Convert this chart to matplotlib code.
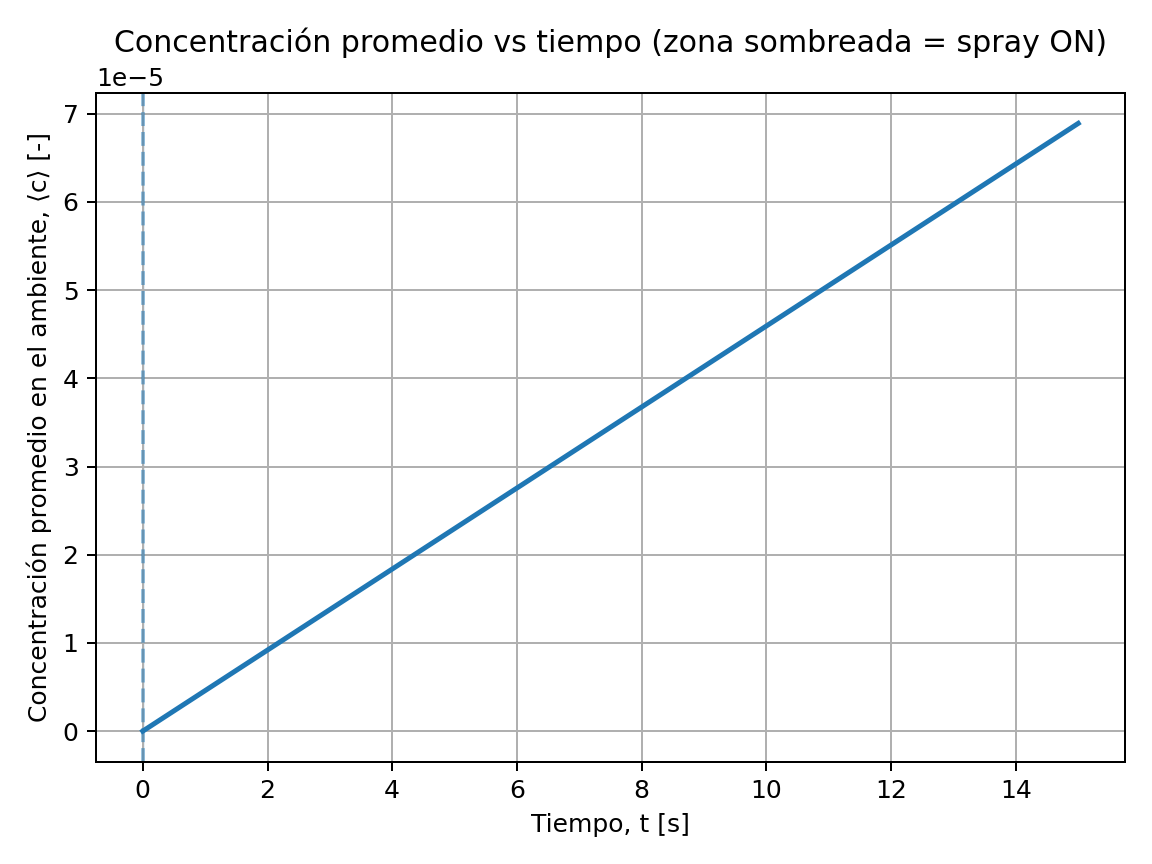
import matplotlib
matplotlib.use("Agg")
import matplotlib.pyplot as plt

t = [0.0, 15.0]
c = [0.0, 6.89e-5]
spray_on = (0.0, 0.0)

fig, ax = plt.subplots(figsize=(6.4, 4.8), dpi=180)
ax.axvspan(spray_on[0], spray_on[1], color="tab:blue", alpha=0.15)
ax.axvline(spray_on[0], color="tab:blue", linestyle="--", alpha=0.5)
ax.plot(t, c, color="tab:blue", linewidth=2)
ax.set_xlabel("Tiempo, t [s]")
ax.set_ylabel("Concentración promedio en el ambiente, ⟨c⟩ [-]")
ax.set_title("Concentración promedio vs tiempo (zona sombreada = spray ON)")
ax.grid(True)
fig.tight_layout()
fig.savefig("out.png")
